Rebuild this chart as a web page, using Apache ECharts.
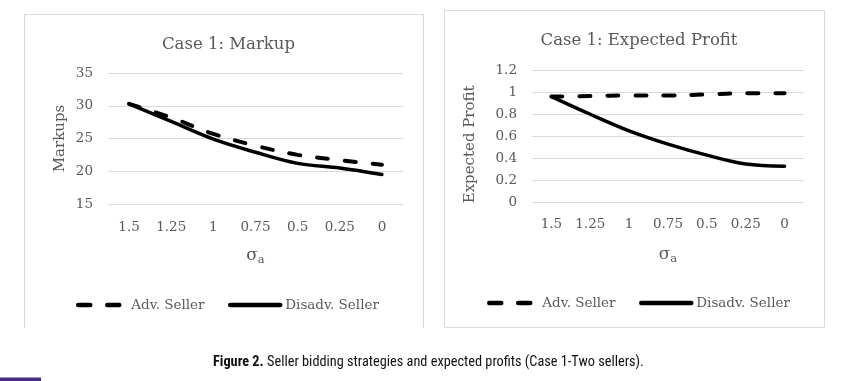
<!DOCTYPE html>
<html>
<head>
<meta charset="utf-8">
<script src="https://cdn.jsdelivr.net/npm/echarts@6/dist/echarts.min.js"></script>
<style>
html,body{margin:0;padding:0;background:#fff;}
#c{width:862px;height:381px;}
</style>
</head>
<body>
<div id="c"></div>
<script>
const categories = ['1.5', '1.25', '1', '0.75', '0.5', '0.25', '0'];
const markupAdv = [30.3, 28.2, 25.7, 23.9, 22.5, 21.7, 21.0];
const markupDisadv = [30.3, 27.6, 24.9, 22.9, 21.2, 20.5, 19.5];
const profitAdv = [0.96, 0.965, 0.97, 0.97, 0.98, 0.99, 0.99];
const profitDisadv = [0.96, 0.80, 0.65, 0.53, 0.43, 0.35, 0.33];
const markupAxis = {min: 15, max: 35, interval: 5};
const profitAxis = {min: 0, max: 1.2, interval: 0.2};
const seriesNames = ['Adv. Seller', 'Disadv. Seller'];
const titles = ['Case 1: Markup', 'Case 1: Expected Profit'];
const yNames = ['Markups', 'Expected Profit'];
const caption = 'Figure 2.';
const captionRest = ' Seller bidding strategies and expected profits (Case 1-Two sellers).';

const FONT = "'DejaVu Serif', 'Liberation Serif', serif";
const CAPFONT = "'Liberation Sans Narrow', 'Roboto Condensed', 'Arial Narrow', sans-serif";
const GRAY = '#595959';
const GRID = '#d9d9d9';

const chart = echarts.init(document.getElementById('c'), null, {renderer: 'canvas'});

function xAxis(idx, margin) {
  return {
    type: 'category', gridIndex: idx, data: categories, boundaryGap: true,
    axisLine: {show: false}, axisTick: {show: false},
    axisLabel: {color: GRAY, fontFamily: FONT, fontSize: 13.5, margin: margin, interval: 0},
    name: '{s|σ}{a|a}', nameLocation: 'middle', nameGap: 41,
    nameTextStyle: {
      color: GRAY, fontFamily: FONT,
      rich: {
        s: {fontSize: 17, fontFamily: FONT, color: GRAY},
        a: {fontSize: 11.5, fontFamily: FONT, color: GRAY, padding: [9, 0, 0, 0]}
      }
    }
  };
}
function yAxis(idx, ax, name, gap, nameSize, pad) {
  return {
    type: 'value', gridIndex: idx, min: ax.min, max: ax.max, interval: ax.interval,
    axisLine: {show: false}, axisTick: {show: false},
    splitLine: {lineStyle: {color: GRID, width: 1}},
    axisLabel: {color: GRAY, fontFamily: FONT, fontSize: 13.5, margin: 15},
    name: name, nameLocation: 'middle', nameGap: gap,
    nameTextStyle: {color: GRAY, fontFamily: FONT, fontSize: nameSize, padding: pad}
  };
}
const dashStyle = {color: '#000', width: 4, type: [11, 17], cap: 'round'};
const solidStyle = {color: '#000', width: 3.5, type: 'solid', cap: 'round'};
function line(name, data, idx, style) {
  return {
    type: 'line', name: name, data: data, xAxisIndex: idx, yAxisIndex: idx,
    smooth: 0.35, showSymbol: false, symbol: 'none',
    lineStyle: style, itemStyle: {color: '#000'}, animation: false
  };
}
function legend(name, left, top, w, textPad, dashed) {
  return {
    data: [name], left: left, top: top, itemWidth: w, itemHeight: 14, itemGap: 0,
    padding: 0,
    itemStyle: {opacity: 0, borderWidth: 0},
    lineStyle: {width: 4.5, cap: 'round', type: dashed ? [12, 17] : 'solid'},
    textStyle: {color: GRAY, fontFamily: FONT, fontSize: 13.5, padding: [0, 0, 0, textPad]},
    selectedMode: false
  };
}

chart.setOption({
  backgroundColor: '#fff',
  animation: false,
  title: [
    {text: titles[0], left: 223.5, top: 31, textAlign: 'center',
     textStyle: {color: GRAY, fontFamily: FONT, fontSize: 16.5, fontWeight: 'normal'}},
    {text: titles[1], left: 634, top: 27, textAlign: 'center',
     textStyle: {color: GRAY, fontFamily: FONT, fontSize: 16.5, fontWeight: 'normal'}}
  ],
  grid: [
    {left: 108, width: 295, top: 73, height: 131},
    {left: 532, width: 272, top: 70, height: 132.7}
  ],
  xAxis: [xAxis(0, 16), xAxis(1, 15)],
  yAxis: [
    yAxis(0, markupAxis, yNames[0], 40, 15, [0, 0, 0, 0]),
    yAxis(1, profitAxis, yNames[1], 54, 15, [0, 16, 0, 0])
  ],
  legend: [
    legend(seriesNames[0], 76, 298, 44, 4, true),
    legend(seriesNames[1], 228, 298, 50, 0, false),
    legend(seriesNames[0], 487, 296, 44, 4, true),
    legend(seriesNames[1], 639, 296, 50, 0, false)
  ],
  series: [
    line(seriesNames[0], markupAdv, 0, dashStyle),
    line(seriesNames[1], markupDisadv, 0, solidStyle),
    line(seriesNames[0], profitAdv, 1, dashStyle),
    line(seriesNames[1], profitDisadv, 1, solidStyle)
  ],
  graphic: [
    {type: 'polyline', shape: {points: [[24.5, 328], [24.5, 14.5], [423.5, 14.5], [423.5, 328]]},
     style: {stroke: GRID, lineWidth: 1, fill: null}, silent: true},
    {type: 'rect', shape: {x: 444.5, y: 10.5, width: 380, height: 317},
     style: {stroke: GRID, lineWidth: 1, fill: null}, silent: true},
    {type: 'text', left: 213, top: 355,
     style: {
       text: '{b|' + caption + '}{n|' + captionRest + '}',
       rich: {
         b: {fontFamily: CAPFONT, fontSize: 14.3, fontWeight: 'bold', fill: '#111'},
         n: {fontFamily: CAPFONT, fontSize: 14.3, fill: '#111'}
       }
     }},
    {type: 'rect', shape: {x: 0, y: 377.5, width: 41, height: 4},
     style: {fill: '#4b2d7f'}, silent: true}
  ]
});
</script>
</body>
</html>
